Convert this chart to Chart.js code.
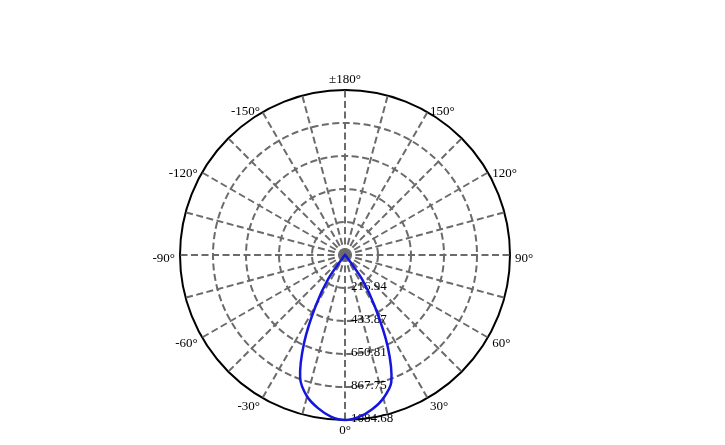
<!DOCTYPE html>
<html>
<head>
<meta charset="utf-8">
<title>Polar intensity</title>
<script src="https://cdn.jsdelivr.net/npm/chart.js@4.4.1/dist/chart.umd.min.js"></script>
<style>
  html, body { margin: 0; padding: 0; background: #fff; }
  #wrap { width: 725px; height: 445px; position: relative; }
</style>
</head>
<body>
<div id="wrap"><canvas id="polar"></canvas></div>
<script>
// angles (deg) in the order the radar walks round: clockwise from the bottom
const angles = [
  0, -5, -10, -15, -20, -25, -30, -35, -40, -45, -50, -55,
  -60, -65, -70, -75, -80, -85, -90, -95, -100, -105, -110, -115,
  -120, -125, -130, -135, -140, -145, -150, -155, -160, -165, -170, -175,
  180, 175, 170, 165, 160, 155, 150, 145, 140, 135, 130, 125,
  120, 115, 110, 105, 100, 95, 90, 85, 80, 75, 70, 65,
  60, 55, 50, 45, 40, 35, 30, 25, 20, 15, 10, 5
];

// luminous intensity, same order as angles
const intensity = [
  1084.68, 1066, 1022, 963, 862, 635, 385, 190, 15, 0, 0, 0,
  0, 0, 0, 0, 0, 0, 0, 0, 0, 0, 0, 0,
  0, 0, 0, 0, 0, 0, 0, 0, 0, 0, 0, 0,
  0, 0, 0, 0, 0, 0, 0, 0, 0, 0, 0, 0,
  0, 0, 0, 0, 0, 0, 0, 0, 0, 0, 0, 0,
  0, 0, 0, 0, 25, 200, 395, 665, 890, 975, 1030, 1068
];

const ringValues = [216.94, 433.87, 650.81, 867.75, 1084.68];
const ringLabels = ['216.94', '433.87', '650.81', '867.75', '1084.68'];

const serif = '"Liberation Serif", "Times New Roman", serif';

// ring values along the 0° spoke and angle names every 30°
const polarLabels = {
  id: 'polarLabels',
  beforeDatasetsDraw(chart) {
    const r = chart.scales.r;
    const ctx = chart.ctx;
    ctx.save();
    ctx.fillStyle = '#000';
    ctx.font = '13px ' + serif;

    ctx.textAlign = 'left';
    ctx.textBaseline = 'middle';
    ringValues.forEach((v, i) => {
      const p = r.getPointPosition(0, r.getDistanceFromCenterForValue(v));
      ctx.fillText(ringLabels[i], p.x + 6, p.y - 1);
    });

    angles.forEach((a, i) => {
      if (a % 30 !== 0) return;
      const p = r.getPointPosition(i, r.drawingArea + 5);
      if (a === 180) {
        ctx.textAlign = 'center';
        ctx.textBaseline = 'bottom';
        ctx.fillText('±180°', p.x, p.y + 1);
      } else if (a === 0) {
        ctx.textAlign = 'center';
        ctx.textBaseline = 'top';
        ctx.fillText('0°', p.x, p.y - 1);
      } else {
        ctx.textAlign = a > 0 ? 'left' : 'right';
        ctx.textBaseline = 'middle';
        ctx.fillText(a + '°', p.x, p.y + 4);
      }
    });
    ctx.restore();
  }
};

const lastRing = ringValues.length; // tick 0 is the centre

new Chart(document.getElementById('polar'), {
  type: 'radar',
  data: {
    labels: angles,
    datasets: [{
      label: 'Intensity',
      data: intensity,
      borderColor: '#1515e0',
      borderWidth: 2.5,
      fill: false,
      tension: 0.3,
      pointRadius: 0,
      pointHitRadius: 0
    }]
  },
  options: {
    responsive: true,
    maintainAspectRatio: false,
    animation: false,
    layout: { padding: { top: 90, bottom: 25, left: 0, right: 35 } },
    plugins: {
      legend: { display: false },
      tooltip: { enabled: false }
    },
    scales: {
      r: {
        min: 0,
        max: 1084.68,
        startAngle: 180,
        afterBuildTicks: (scale) => {
          scale.ticks = [0].concat(ringValues).map(v => ({ value: v }));
        },
        ticks: { display: false },
        pointLabels: { display: false },
        grid: {
          circular: true,
          color: (c) => c.index === lastRing ? '#000' : '#6b6b6b',
          lineWidth: 2
        },
        border: {
          dash: (c) => c.index === lastRing ? [] : [7, 3.5]
        },
        angleLines: {
          color: '#6b6b6b',
          lineWidth: (c) => c.index % 3 === 0 ? 2 : 0,
          borderDash: [7, 3.5]
        }
      }
    }
  },
  plugins: [polarLabels]
});
</script>
</body>
</html>
